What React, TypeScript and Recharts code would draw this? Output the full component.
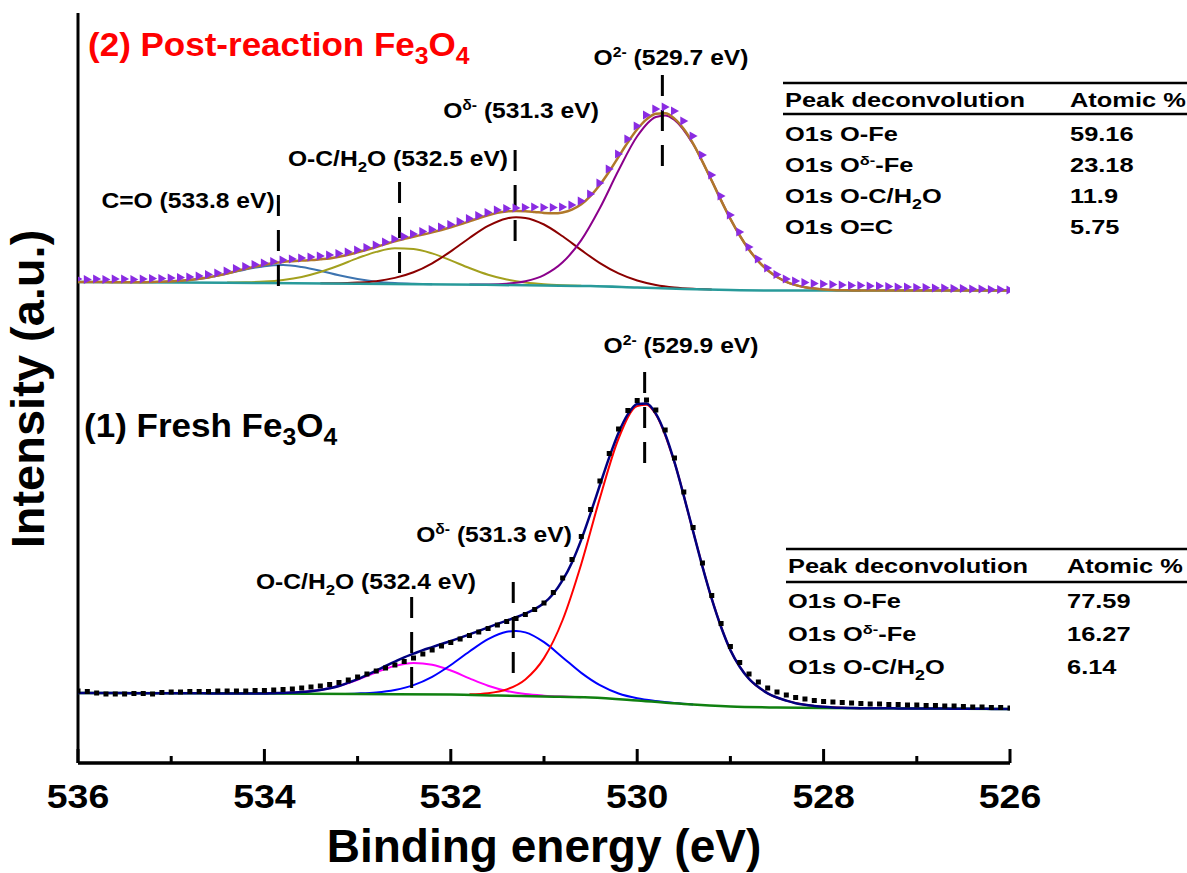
import React from 'react'
import { ComposedChart, Line, XAxis, YAxis, ReferenceLine } from 'recharts'

// binding energy grid of the measured points (eV)
const ENERGY = [
  536, 535.9, 535.8, 535.7, 535.6, 535.5, 535.4, 535.3, 535.2, 535.1,
  535, 534.9, 534.8, 534.7, 534.6, 534.5, 534.4, 534.3, 534.2, 534.1,
  534, 533.9, 533.8, 533.7, 533.6, 533.5, 533.4, 533.3, 533.2, 533.1,
  533, 532.9, 532.8, 532.7, 532.6, 532.5, 532.4, 532.3, 532.2, 532.1,
  532, 531.9, 531.8, 531.7, 531.6, 531.5, 531.4, 531.3, 531.2, 531.1,
  531, 530.9, 530.8, 530.7, 530.6, 530.5, 530.4, 530.3, 530.2, 530.1,
  530, 529.9, 529.8, 529.7, 529.6, 529.5, 529.4, 529.3, 529.2, 529.1,
  529, 528.9, 528.8, 528.7, 528.6, 528.5, 528.4, 528.3, 528.2, 528.1,
  528, 527.9, 527.8, 527.7, 527.6, 527.5, 527.4, 527.3, 527.2, 527.1,
  527, 526.9, 526.8, 526.7, 526.6, 526.5, 526.4, 526.3, 526.2, 526.1,
  526,
]

// (2) post-reaction Fe3O4
const POST_DATA = [
  484, 483.5, 484, 483.5, 484, 484, 483.5, 484, 484.5, 484.5,
  485, 485.5, 486, 487, 488.5, 490, 492, 494.5, 496.5, 498.5,
  500, 501.5, 503, 504, 505, 506, 507, 508, 509.5, 511,
  513, 515.5, 518, 521, 524, 526.5, 529, 531.5, 533.5, 536,
  538.5, 541.5, 544.5, 547.5, 550.5, 553, 554.5, 555, 555.5, 556,
  555.5, 555.5, 556, 558, 562, 569, 580, 594, 609, 624,
  637, 648, 654, 656, 652, 642, 627, 608, 588, 567,
  548, 531, 516, 504, 495, 488.5, 484, 482, 480.5, 479.5,
  479, 478.5, 478, 477.5, 477.5, 477, 477, 476.5, 476, 476,
  475.5, 475.5, 475, 475, 474.5, 474.5, 474, 474, 473.5, 473.5,
  473,
]
const POST_FIT = [
  481, 481, 480.9, 480.9, 480.8, 480.8, 480.7, 480.7, 481, 481.3,
  481.6, 482.2, 483, 484.2, 485.6, 487.4, 489.4, 492, 494.2, 496.4,
  498.2, 499.9, 501.1, 501.8, 502.4, 502.9, 503.7, 504.6, 506.2, 508.2,
  510.7, 513.3, 516, 518.9, 521.7, 524.1, 526.3, 528.4, 530.6, 533,
  535.7, 538.6, 541.7, 544.8, 547.7, 550.1, 551.6, 552.1, 551.8, 551,
  550.1, 549.7, 550.6, 553.4, 558.7, 567.1, 578.2, 591.5, 606.2, 620.7,
  633.7, 643.6, 649.2, 649.7, 644.4, 634, 619.4, 601.4, 582.2, 562.6,
  544.1, 527.5, 513.3, 501.7, 492.7, 486, 481.2, 477.9, 475.8, 474.4,
  473.6, 473.1, 472.8, 472.6, 472.5, 472.5, 472.5, 472.5, 472.5, 472.5,
  472.5, 472.5, 472.5, 472.5, 472.5, 472.5, 472.5, 472.5, 472.5, 472.5,
  472.5,
]
const POST_BG_E = [536, 534, 532, 531, 530.5, 530, 529.5, 529, 528.5, 526]
const POST_BG = [481, 480, 478.5, 477.5, 477, 475.5, 474, 473, 472.5, 472.5]

const POST_CO_E = [535.4, 535.2, 535, 534.8, 534.6, 534.4, 534.2, 534, 533.8, 533.6, 533.4, 533.2, 533, 532.8, 532.6, 532.4, 532.2]
const POST_CO = [480.9, 481, 481.6, 483, 485.6, 489.4, 493.6, 496.8, 497.9, 496, 492.3, 487.7, 484, 481.3, 479.9, 479.2, 478.8]

const POST_OC_E = [534.4, 534.2, 534, 533.8, 533.6, 533.4, 533.2, 533, 532.8, 532.6, 532.4, 532.2, 532, 531.8, 531.6, 531.4, 531.2, 531, 530.8, 530.6]
const POST_OC = [480.5, 480.7, 481.4, 483.1, 486.1, 491, 497.5, 504.9, 511.1, 514.7, 514, 509.6, 502.6, 495, 488.3, 483.5, 480.4, 478.7, 477.8, 477.3]

const POST_OD_E = [533.4, 533.2, 533, 532.8, 532.6, 532.4, 532.2, 532, 531.8, 531.6, 531.4, 531.3, 531.2, 531, 530.8, 530.6, 530.4, 530.2, 530, 529.8, 529.6, 529.4, 529.2]
const POST_OD = [479.8, 479.8, 480.4, 481.8, 485.1, 490.7, 499.7, 511.6, 525, 537.1, 544.6, 545.8, 545.1, 538.5, 526.7, 512.9, 499.9, 489.6, 482.5, 478.1, 475.6, 474.3, 473.6]

const POST_O2_E = [531.8, 531.6, 531.4, 531.2, 531, 530.8, 530.6, 530.4, 530.2, 530, 529.8, 529.7, 529.6, 529.4, 529.2, 529, 528.8, 528.6, 528.4, 528.2, 528, 527.8, 527.6]
const POST_O2 = [478.4, 478.5, 479.3, 481.7, 487.9, 500.7, 522.9, 555, 592.7, 626.7, 646, 647.6, 643.1, 618.9, 582.2, 544.1, 513.3, 492.7, 481.2, 475.8, 473.6, 472.8, 472.6]

// (1) fresh Fe3O4
const FRESH_DATA = [
  72, 71.5, 70, 69, 69, 69, 69.5, 69.5, 69, 70.5,
  71, 71, 71.5, 71.5, 71.5, 72, 72, 72, 72, 72.5,
  72.5, 73, 73.5, 74, 75, 76, 77, 78.5, 80.5, 83,
  86, 89, 92, 95, 98, 101.5, 105, 109, 113, 117,
  120.5, 124, 127.5, 131, 134.5, 138, 141.5, 144.5, 148.5, 153.5,
  160, 170.5, 185, 203.5, 226.5, 253.5, 282, 309.5, 334, 352.5,
  362.5, 363, 353, 333, 305, 271, 235.5, 200, 167.5, 139.5,
  116.5, 100.5, 89, 81, 75, 71, 68, 65.5, 64, 62.5,
  61.5, 61, 60.5, 60, 59.5, 59, 59, 58.5, 58.5, 58,
  58, 57.5, 57.5, 57, 57, 56.5, 56, 56, 55.5, 55.5,
  55,
]
const FRESH_FIT = [
  70, 70, 69.9, 69.9, 69.9, 69.9, 69.8, 69.8, 69.8, 69.8,
  69.7, 69.7, 69.7, 69.7, 69.6, 69.6, 69.6, 69.6, 69.5, 69.5,
  69.5, 69.8, 70, 70.4, 70.9, 71.8, 73, 74.8, 77, 80.3,
  83.8, 88, 92.4, 97, 101.4, 105.7, 109.3, 112.9, 115.9, 119,
  122, 125.3, 128.6, 132.1, 135.6, 139, 142.4, 145.7, 149.3, 153.8,
  160, 169.3, 182.8, 200.6, 223.4, 249.9, 278, 305.7, 330.3, 348.9,
  359.1, 359.6, 349.4, 329, 300.8, 267.2, 231.6, 196.4, 164.1, 136,
  112.9, 96.3, 84.1, 75.9, 69.7, 65.5, 62.4, 59.8, 58.2, 57.1,
  56.2, 55.6, 55.2, 54.9, 54.8, 54.8, 54.7, 54.7, 54.6, 54.6,
  54.5, 54.5, 54.4, 54.4, 54.3, 54.3, 54.2, 54.2, 54.1, 54.1,
  54,
]
const FRESH_BG_E = [536, 534, 533, 532, 531.5, 531, 530.5, 530, 529.5, 529, 528.5, 528, 527, 526]
const FRESH_BG = [70, 69.5, 69, 68.5, 67.5, 66.5, 65.5, 62.5, 59, 56.5, 55.5, 55, 54.5, 54]

const FRESH_OC_E = [534, 533.8, 533.6, 533.4, 533.2, 533, 532.8, 532.6, 532.4, 532.2, 532, 531.8, 531.6, 531.4, 531.2, 531, 530.8, 530.6]
const FRESH_OC = [69.7, 70, 70.9, 73, 77, 83.2, 90.7, 97.1, 100.1, 98.3, 92.5, 84.6, 77.3, 72.1, 68.9, 67.3, 66.4, 65.8]

const FRESH_OD_E = [533.2, 533, 532.8, 532.6, 532.4, 532.2, 532, 531.8, 531.6, 531.4, 531.3, 531.2, 531, 530.8, 530.6, 530.4, 530.2, 530, 529.8, 529.6, 529.4]
const FRESH_OD = [69.1, 69.6, 70.6, 73.1, 77.9, 86.2, 98, 111.5, 123.9, 131.3, 132.1, 130.6, 120.8, 105.6, 90.1, 77.8, 69.5, 64.7, 61.9, 59.9, 58.5]

const FRESH_O2_E = [531.8, 531.6, 531.4, 531.2, 531, 530.8, 530.6, 530.4, 530.2, 530, 529.9, 529.8, 529.6, 529.4, 529.2, 529, 528.8, 528.6, 528.4, 528.2, 528, 527.8, 527.6]
const FRESH_O2 = [68.7, 69.8, 73.6, 83.6, 104.9, 143, 199, 265.1, 324.5, 356.9, 358.3, 348.6, 300.6, 231.6, 164.1, 112.9, 84.1, 69.7, 62.4, 58.2, 56.2, 55.2, 54.8]

// dashed peak markers: energy, top and bottom intensity
const MARK_E = [533.85, 532.55, 531.31, 529.73, 529.92, 531.33, 532.42]
const MARK_TOP = [568, 581, 613, 688, 391, 181, 166]
const MARK_BOTTOM = [476, 485, 521, 596, 298, 88, 75]

const X_TICKS = [536, 535, 534, 533, 532, 531, 530, 529, 528, 527, 526]
const X_LABELS = [536, 534, 532, 530, 528, 526]

const POST_TABLE = [
  ['O1s O-Fe', '59.16'],
  ['O1s Oδ--Fe', '23.18'],
  ['O1s O-C/H2O', '11.9'],
  ['O1s O=C', '5.75'],
]
const FRESH_TABLE = [
  ['O1s O-Fe', '77.59'],
  ['O1s Oδ--Fe', '16.27'],
  ['O1s O-C/H2O', '6.14'],
]

const FONT = '"Liberation Sans", Arial, Helvetica, sans-serif'

const pts = (e: number[], y: number[]) => e.map((v, i) => ({ e: v, y: y[i] }))

function BottomTick(props: any) {
  const { x, y, payload } = props
  const major = X_LABELS.includes(payload.value)
  return (
    <g>
      <line x1={x} y1={y} x2={x} y2={y - (major ? 14 : 7)} stroke="#000" strokeWidth={3} />
      {major && (
        <text
          transform={`translate(${x},${y + 45}) scale(1.1,1)`}
          textAnchor="middle"
          fontSize={34}
          fontWeight="bold"
          fontFamily={FONT}
          fill="#000"
        >
          {payload.value}
        </text>
      )}
    </g>
  )
}

function Triangle(props: any) {
  const { cx, cy, index } = props
  if (cx == null || cy == null) return <g key={index} />
  return <path key={index} d={`M${cx - 3.5},${cy - 4.5}L${cx + 4.5},${cy}L${cx - 3.5},${cy + 4.5}Z`} fill="#8a2be2" />
}

function Square(props: any) {
  const { cx, cy, index } = props
  if (cx == null || cy == null) return <g key={index} />
  return <rect key={index} x={cx - 2.5} y={cy - 2.5} width={5} height={5} fill="#000" />
}

function T({ x, y, size, sx = 1, anchor = 'start', fill = '#000', children }: any) {
  return (
    <text
      transform={`translate(${x},${y}) scale(${sx},1)`}
      fontSize={size}
      fontWeight="bold"
      textAnchor={anchor}
      fill={fill}
    >
      {children}
    </text>
  )
}

function Peak({ x, y, sup, rest }: any) {
  return (
    <T x={x} y={y} size={22} sx={1.12} anchor="middle">
      O<tspan dy={-8} fontSize={14}>{sup}</tspan>
      <tspan dy={8}>{rest}</tspan>
    </T>
  )
}

function OCLabel({ x, y, rest }: any) {
  return (
    <T x={x} y={y} size={22} sx={1.12} anchor="middle">
      O-C/H<tspan dy={6} fontSize={15}>2</tspan>
      <tspan dy={-6}>{rest}</tspan>
    </T>
  )
}

function RowName({ name }: { name: string }) {
  if (name.includes('δ'))
    return (
      <>
        O1s O<tspan dy={-7} fontSize={13}>δ-</tspan>
        <tspan dy={7}>-Fe</tspan>
      </>
    )
  if (name.includes('H2O'))
    return (
      <>
        O1s O-C/H<tspan dy={6} fontSize={14}>2</tspan>
        <tspan dy={-6}>O</tspan>
      </>
    )
  return <>{name}</>
}

function Table({ rows, x, x2, top, header, rule2, base, step }: any) {
  return (
    <g>
      <line x1={x - 2} y1={top} x2={1187} y2={top} stroke="#000" strokeWidth={2.5} />
      <T x={x} y={header} size={20} sx={1.27}>Peak deconvolution</T>
      <T x={x2} y={header} size={20} sx={1.27}>Atomic %</T>
      <line x1={x - 2} y1={rule2} x2={1187} y2={rule2} stroke="#000" strokeWidth={2.5} />
      {rows.map((r: string[], i: number) => (
        <g key={r[0]}>
          <T x={x} y={base + i * step} size={20} sx={1.27}>
            <RowName name={r[0]} />
          </T>
          <T x={x2} y={base + i * step} size={20} sx={1.27}>{r[1]}</T>
        </g>
      ))}
    </g>
  )
}

export default function App() {
  return (
    <div style={{ position: 'relative', width: 1187, height: 873, background: '#fff', fontFamily: FONT }}>
      <style>{'body{margin:0}'}</style>
      <ComposedChart width={1187} height={873} margin={{ top: 13, right: 177, bottom: 0, left: 78 }}>
        <XAxis
          type="number"
          dataKey="e"
          domain={[526, 536]}
          reversed
          allowDataOverflow
          ticks={X_TICKS}
          interval={0}
          tick={(p: any) => <BottomTick {...p} />}
          tickLine={false}
          tickSize={0}
          tickMargin={0}
          height={110}
          axisLine={{ stroke: '#000', strokeWidth: 3 }}
        />
        <YAxis
          type="number"
          domain={[0, 750]}
          allowDataOverflow
          width={0}
          tick={false}
          tickLine={false}
          axisLine={false}
        />

        {/* axis frame: left and bottom */}
        <ReferenceLine segment={[{ x: 536, y: 0 }, { x: 536, y: 750 }]} stroke="#000" strokeWidth={3} ifOverflow="visible" />
        <ReferenceLine segment={[{ x: 536, y: 0 }, { x: 526, y: 0 }]} stroke="#000" strokeWidth={3} ifOverflow="visible" />

        {/* post-reaction */}
        <Line data={pts(ENERGY, POST_DATA)} dataKey="y" stroke="none" dot={Triangle} activeDot={false} isAnimationActive={false} />
        <Line data={pts(POST_CO_E, POST_CO)} dataKey="y" type="monotone" stroke="#3d74b0" strokeWidth={2} dot={false} isAnimationActive={false} />
        <Line data={pts(POST_OC_E, POST_OC)} dataKey="y" type="monotone" stroke="#a3a01e" strokeWidth={2} dot={false} isAnimationActive={false} />
        <Line data={pts(POST_OD_E, POST_OD)} dataKey="y" type="monotone" stroke="#8b0000" strokeWidth={2} dot={false} isAnimationActive={false} />
        <Line data={pts(POST_O2_E, POST_O2)} dataKey="y" type="monotone" stroke="#8b008b" strokeWidth={2} dot={false} isAnimationActive={false} />
        <Line data={pts(POST_BG_E, POST_BG)} dataKey="y" type="monotone" stroke="#289a9a" strokeWidth={2.5} dot={false} isAnimationActive={false} />
        <Line data={pts(ENERGY, POST_FIT)} dataKey="y" type="monotone" stroke="#b0782a" strokeWidth={2.5} dot={false} isAnimationActive={false} />

        {/* fresh */}
        <Line data={pts(FRESH_OC_E, FRESH_OC)} dataKey="y" type="monotone" stroke="#ff00ff" strokeWidth={2} dot={false} isAnimationActive={false} />
        <Line data={pts(FRESH_OD_E, FRESH_OD)} dataKey="y" type="monotone" stroke="#0000ff" strokeWidth={2} dot={false} isAnimationActive={false} />
        <Line data={pts(FRESH_O2_E, FRESH_O2)} dataKey="y" type="monotone" stroke="#ff0000" strokeWidth={2} dot={false} isAnimationActive={false} />
        <Line data={pts(FRESH_BG_E, FRESH_BG)} dataKey="y" type="monotone" stroke="#108010" strokeWidth={2.5} dot={false} isAnimationActive={false} />
        <Line data={pts(ENERGY, FRESH_FIT)} dataKey="y" type="monotone" stroke="#000080" strokeWidth={2.5} dot={false} isAnimationActive={false} />
        <Line data={pts(ENERGY, FRESH_DATA)} dataKey="y" stroke="none" dot={Square} activeDot={false} isAnimationActive={false} />

        {MARK_E.map((e, i) => (
          <ReferenceLine
            key={i}
            segment={[{ x: e, y: MARK_TOP[i] }, { x: e, y: MARK_BOTTOM[i] }]}
            stroke="#000"
            strokeWidth={3}
            strokeDasharray="21 14"
            ifOverflow="visible"
          />
        ))}
      </ComposedChart>

      <svg
        width={1187}
        height={873}
        style={{ position: 'absolute', left: 0, top: 0, pointerEvents: 'none' }}
        fontFamily={FONT}
      >
        <text transform="translate(44,389) rotate(-90)" textAnchor="middle" fontSize={47} fontWeight="bold" fill="#000">
          Intensity (a.u.)
        </text>
        <text x={544} y={862} textAnchor="middle" fontSize={46} fontWeight="bold" fill="#000">
          Binding energy (eV)
        </text>

        <T x={88} y={56} size={34} sx={1.03} fill="#ff0000">
          (2) Post-reaction Fe<tspan dy={8} fontSize={24}>3</tspan>
          <tspan dy={-8}>O</tspan>
          <tspan dy={8} fontSize={24}>4</tspan>
        </T>
        <T x={84} y={437} size={34} sx={1.03}>
          (1) Fresh Fe<tspan dy={8} fontSize={24}>3</tspan>
          <tspan dy={-8}>O</tspan>
          <tspan dy={8} fontSize={24}>4</tspan>
        </T>

        <T x={188} y={208} size={22} sx={1.12} anchor="middle">C=O (533.8 eV)</T>
        <OCLabel x={398} y={166} rest="O (532.5 eV)" />
        <Peak x={521} y={118} sup="δ-" rest=" (531.3 eV)" />
        <Peak x={671} y={65} sup="2-" rest=" (529.7 eV)" />
        <Peak x={681} y={353} sup="2-" rest=" (529.9 eV)" />
        <Peak x={494} y={542} sup="δ-" rest=" (531.3 eV)" />
        <OCLabel x={366} y={589} rest="O (532.4 eV)" />

        <Table rows={POST_TABLE} x={785} x2={1070} top={83} header={107} rule2={114} base={141} step={31} />
        <Table rows={FRESH_TABLE} x={788} x2={1067} top={549} header={573} rule2={582} base={608} step={33} />
      </svg>
    </div>
  )
}
